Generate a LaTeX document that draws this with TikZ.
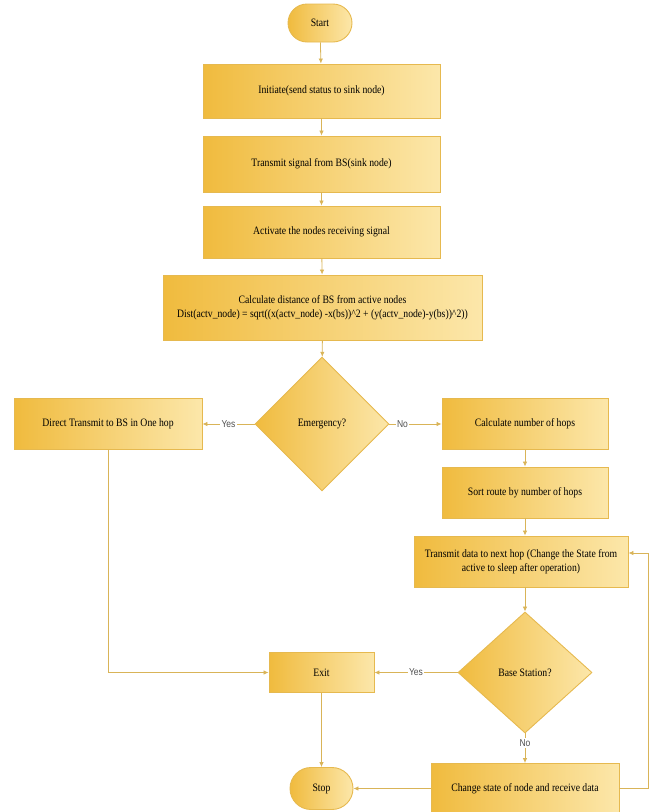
\documentclass[tikz,border=0pt]{standalone}
\usepackage{fontspec}
\setmainfont{Liberation Serif}
\newfontfamily\boxfont{Liberation Serif}[FakeStretch=0.86]
\newfontfamily\lblfont{Liberation Sans}[FakeStretch=0.85]
\usetikzlibrary{shapes.geometric,shapes.misc,arrows.meta}
\definecolor{goldL}{HTML}{F0BB3E}
\definecolor{goldR}{HTML}{FCE7AA}
\definecolor{goldB}{HTML}{E6B94F}
\definecolor{lineC}{HTML}{D9B458}
\definecolor{lblC}{HTML}{505050}
\tikzset{
  base/.style={draw=goldB, line width=0.9pt, left color=goldL, right color=goldR,
    font=\boxfont\fontsize{11.3}{13.5}\selectfont, align=center, inner sep=1pt, text=black},
  box/.style={base, rectangle},
  term/.style={base, rounded rectangle},
  dec/.style={base, diamond, inner sep=0pt},
  arr/.style={draw=lineC, line width=0.8pt, -{Latex[length=5pt,width=4.5pt]}},
  lbl/.style={fill=white, inner sep=1.5pt, text=lblC, font=\lblfont\fontsize{10}{11}\selectfont}
}
\begin{document}
\begin{tikzpicture}[x=1pt,y=-1pt]
\useasboundingbox (0,0) rectangle (652,812);
\node[term, minimum width=66pt, minimum height=38pt] (start) at (320,23) {Start};
\node[box, minimum width=237pt, minimum height=54pt] (b1) at (321.5,91) {Initiate(send status to sink node)};
\node[box, minimum width=237pt, minimum height=56pt] (b2) at (321.5,164) {Transmit signal from BS(sink node)};
\node[box, minimum width=237pt, minimum height=52pt] (b3) at (321.5,232) {Activate the nodes receiving signal};
\node[box, minimum width=319pt, minimum height=65pt] (b4) at (322.5,307.5) {Calculate distance of BS from active nodes\\Dist(actv\_node) = sqrt((x(actv\_node) -x(bs))\textasciicircum 2 + (y(actv\_node)-y(bs))\textasciicircum 2))};
\node[dec, minimum width=134pt, minimum height=134pt] (emg) at (322,424) {Emergency?};
\node[box, minimum width=188pt, minimum height=51pt] (direct) at (108,424) {Direct Transmit to BS in One hop};
\node[box, minimum width=166pt, minimum height=51pt] (hops) at (525,424) {Calculate number of hops};
\node[box, minimum width=166pt, minimum height=51pt] (sort) at (525,492.5) {Sort route by number of hops};
\node[box, minimum width=214pt, minimum height=51pt] (trans) at (521,561.5) {Transmit data to next hop (Change the State from\\active to sleep after operation)};
\node[dec, minimum width=134pt, minimum height=121pt] (bs) at (525,672.5) {Base Station?};
\node[box, minimum width=105pt, minimum height=40pt] (exit) at (321.5,672.5) {Exit};
\node[box, minimum width=188pt, minimum height=50pt] (chg) at (525,788.5) {Change state of node and receive data};
\node[term, minimum width=65pt, minimum height=42pt] (stop) at (321.5,788.5) {Stop};
\coordinate (rt) at (648,553);

\draw[arr] (start) -- (b1);
\draw[arr] (b1) -- (b2);
\draw[arr] (b2) -- (b3);
\draw[arr] (b3) -- (b4);
\draw[arr] (b4) -- (emg);
\draw[arr] (emg.west) -- node[lbl, pos=0.5] {Yes} (direct.east);
\draw[arr] (emg.east) -- node[lbl, pos=0.25] {No} (hops.west);
\draw[arr] (hops) -- (sort);
\draw[arr] (sort) -- (sort.south |- trans.north);
\draw[arr] (trans.south -| bs.north) -- (bs.north);
\draw[arr] (bs.west) -- node[lbl, pos=0.5] {Yes} (exit.east);
\draw[arr] (bs.south) -- node[lbl, pos=0.33] {No} (chg.north);
\draw[arr] (direct.south) |- (exit.west);
\draw[arr] (exit) -- (stop);
\draw[arr] (chg.west) -- (stop.east);
\draw[arr] (chg.east) -- (chg.east -| rt) -- (rt) -- (rt -| trans.east);
\end{tikzpicture}
\end{document}
